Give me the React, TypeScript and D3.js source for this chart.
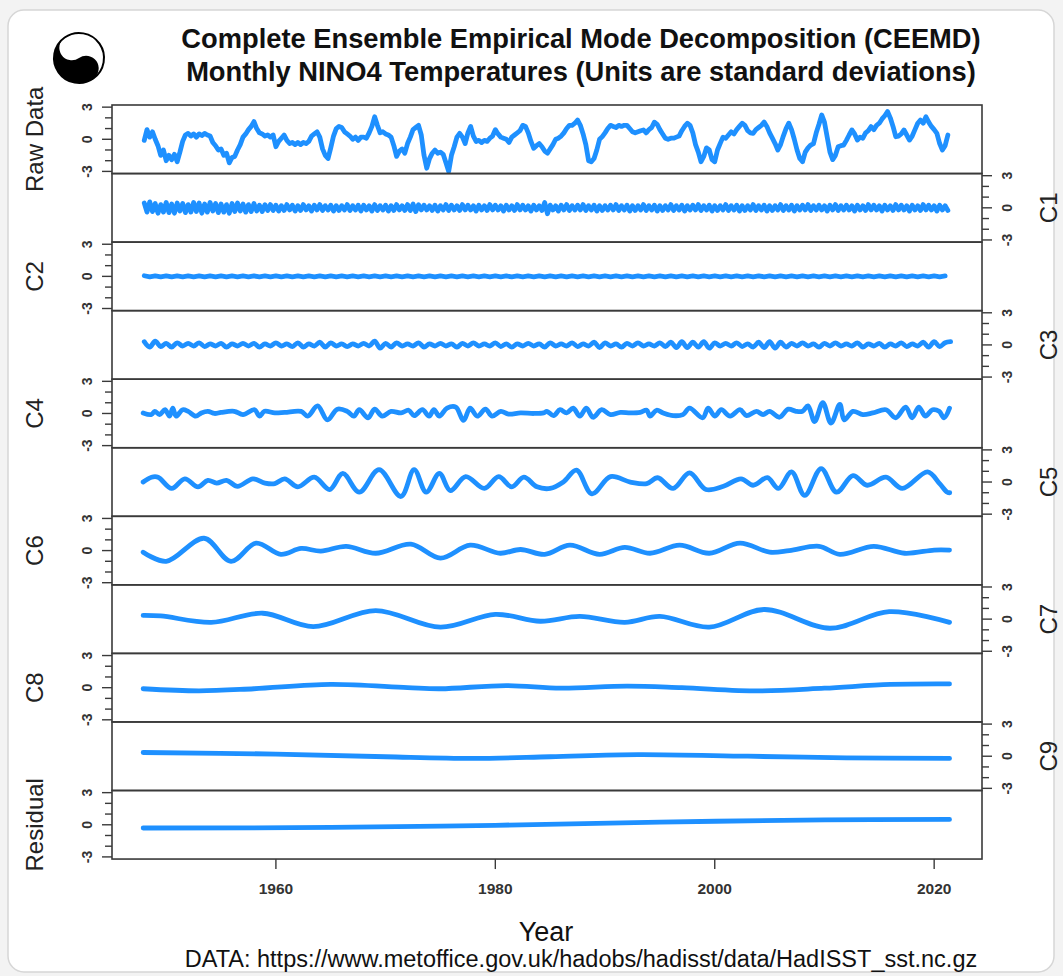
import React from 'react';
import * as d3 from 'd3';

const W = 1063, H = 976;
const LEFT = 112, RIGHT = 982, TOP = 105, PANEL_H = 68.55;
const START = 1948;
const X_DOMAIN: [number, number] = [1945.06, 2024.36];
const Y_DOMAIN: [number, number] = [-3.2, 3.2];
const Y_TICKS = [-3, -2, -1, 0, 1, 2, 3];
const Y_LABELS = [-3, 0, 3];
const X_TICKS = [1960, 1980, 2000, 2020];
const BLUE = '#1E90FF';

// Raw data, quarterly from 1948.0
const RAW = [
  -0.1, 0.9, 0.2, 0.7, 0.0, -0.6, -1.5, -1.0,
  -2.0, -1.5, -1.9, -1.4, -2.1, -1.2, -0.2, 0.4,
  0.55, 0.3, 0.5, 0.2, 0.5, 0.35, 0.55, 0.4,
  0.3, -0.3, -0.6, -1.0, -0.9, -1.5, -1.3, -2.2,
  -1.7, -1.6, -1.0, -0.5, 0.2, 0.5, 0.9, 1.2,
  1.65, 1.0, 0.6, 0.5, 0.3, 0.4, 0.2, 0.4,
  -0.7, -0.2, 0.1, 0.4, -0.1, -0.4, -0.3, -0.5,
  -0.3, -0.5, -0.3, -0.4, -0.2, 0.3, 0.5, 0.7,
  0.2, -0.9, -1.5, -1.8, -0.8, 0.3, 1.0, 1.2,
  1.1, 0.7, 0.5, 0.3, 0.0, 0.2, -0.1, 0.2,
  0.2, 0.1, 0.6, 1.2, 2.1, 1.3, 0.6, 0.7,
  0.5, 0.4, 0.2, -0.6, -1.6, -1.1, -0.9, -1.3,
  -0.4, 0.2, 0.9, 1.1, 1.3, 0.4, -1.5, -2.7,
  -1.8, -1.3, -1.0, -1.3, -1.2, -1.4, -2.2, -3.0,
  -1.5, -0.7, 0.2, 0.55, 0.2, -0.4, 0.6, 1.2,
  0.3, -0.2, -0.1, -0.3, -0.1, -0.2, 0.1, 0.3,
  0.9, 0.5, 0.2, 0.1, 0.0, -0.3, 0.2, 0.4,
  0.6, 0.8, 1.3, 1.2, 0.6, -0.2, -0.85, -0.6,
  -0.4, -0.7, -1.1, -1.3, -0.9, -0.5, 0.0, 0.1,
  0.3, 0.6, 1.0, 1.3, 1.3, 1.5, 1.8, 1.3,
  0.5, -0.5, -2.0, -2.1, -1.8, -1.0, 0.0, 0.25,
  0.6, 1.0, 1.3, 1.2, 1.1, 1.3, 1.2, 1.3,
  1.3, 1.0, 0.7, 0.6, 0.7, 0.8, 0.87, 0.6,
  0.9, 1.1, 1.6, 1.4, 0.9, 0.5, 0.1, 0.0,
  0.1, 0.1, 0.2, 0.3, 0.8, 1.2, 1.5, 1.3,
  0.6, -0.5, -1.2, -2.1, -1.6, -0.8, -1.0, -1.9,
  -2.1, -1.0, -0.38, 0.2, 0.1, 0.4, 0.7, 0.5,
  0.9, 1.2, 1.5, 1.3, 0.8, 0.6, 0.55, 0.9,
  1.1, 1.3, 1.6, 1.2, 0.6, 0.1, -0.4, -1.0,
  -0.5, 0.3, 1.0, 1.5, 0.9, 0.0, -1.0, -1.8,
  -2.1, -1.2, -0.8, -0.54, -0.4, 0.6, 1.4, 2.27,
  1.6, 0.2, -1.2, -1.9, -1.5, -0.7, -0.6, -0.54,
  -0.1, 0.4, 0.87, 0.5, -0.07, 0.2, 0.1, 0.6,
  0.8, 1.18, 0.9, 1.3, 1.5, 1.9, 2.2, 2.59,
  2.0, 1.2, 0.24, 0.3, 0.5, 0.87, 0.4, -0.07,
  0.3, 0.9, 1.5, 1.8, 1.5, 2.1, 1.6, 1.2,
  0.9, 0.55, -0.4, -1.0, -0.6, 0.4,
];

// C1, quarterly
const C1 = [
  0.45, -0.4, 0.55, -0.35, 0.4, -0.5, 0.3, -0.4,
  0.5, -0.45, 0.35, -0.5, 0.45, -0.3, 0.4, -0.45,
  0.3, -0.4, 0.5, -0.35, 0.45, -0.5, 0.35, -0.4,
  0.5, -0.3, 0.4, -0.45, 0.35, -0.4, 0.3, -0.5,
  0.4, -0.35, 0.45, -0.3, 0.35, -0.4, 0.3, -0.35,
  0.4, -0.3, 0.25, -0.35, 0.3, -0.25, 0.3, -0.25,
  0.25, -0.3, 0.2, -0.25, 0.3, -0.2, 0.25, -0.3,
  0.2, -0.25, 0.3, -0.2, 0.2, -0.3, 0.25, -0.2,
  0.3, -0.25, 0.2, -0.2, 0.25, -0.3, 0.2, -0.25,
  0.2, -0.2, 0.3, -0.25, 0.2, -0.2, 0.25, -0.3,
  0.25, -0.2, 0.2, -0.3, 0.3, -0.25, 0.2, -0.2,
  0.25, -0.3, 0.2, -0.25, 0.3, -0.2, 0.2, -0.25,
  0.3, -0.25, 0.35, -0.35, 0.3, -0.2, 0.25, -0.2,
  0.2, -0.25, 0.25, -0.3, 0.2, -0.2, 0.3, -0.25,
  0.25, -0.2, 0.2, -0.25, 0.3, -0.2, 0.25, -0.2,
  0.2, -0.3, 0.25, -0.2, 0.2, -0.25, 0.3, -0.2,
  0.25, -0.2, 0.2, -0.3, 0.25, -0.2, 0.2, -0.25,
  0.3, -0.2, 0.25, -0.2, 0.2, -0.3, 0.25, -0.2,
  0.2, -0.25, 0.5, -0.55, 0.25, -0.2, 0.2, -0.3,
  0.25, -0.2, 0.3, -0.25, 0.2, -0.2, 0.25, -0.2,
  0.3, -0.25, 0.2, -0.2, 0.25, -0.3, 0.2, -0.25,
  0.2, -0.2, 0.25, -0.2, 0.3, -0.25, 0.2, -0.2,
  0.25, -0.3, 0.2, -0.25, 0.2, -0.2, 0.3, -0.25,
  0.2, -0.2, 0.25, -0.3, 0.2, -0.25, 0.2, -0.2,
  0.3, -0.25, 0.2, -0.2, 0.25, -0.3, 0.2, -0.2,
  0.25, -0.2, 0.3, -0.25, 0.2, -0.2, 0.25, -0.3,
  0.2, -0.25, 0.2, -0.2, 0.3, -0.25, 0.2, -0.2,
  0.25, -0.3, 0.2, -0.25, 0.2, -0.2, 0.3, -0.25,
  0.2, -0.2, 0.25, -0.3, 0.2, -0.25, 0.2, -0.2,
  0.3, -0.25, 0.2, -0.2, 0.25, -0.3, 0.2, -0.2,
  0.25, -0.2, 0.3, -0.25, 0.2, -0.2, 0.25, -0.2,
  0.2, -0.3, 0.25, -0.2, 0.3, -0.25, 0.2, -0.2,
  0.25, -0.2, 0.2, -0.3, 0.25, -0.2, 0.2, -0.25,
  0.3, -0.2, 0.25, -0.2, 0.2, -0.3, 0.25, -0.2,
  0.2, -0.25, 0.3, -0.2, 0.25, -0.2, 0.2, -0.3,
  0.25, -0.2, 0.2, -0.25, 0.3, -0.2, 0.25, -0.2,
  0.2, -0.3, 0.25, -0.2, 0.2, -0.25,
];

// C2, half-yearly
const C2 = [
  0.06, -0.05, 0.05, -0.04, 0.05, -0.05, 0.04, -0.04, 0.05, -0.04, 0.04, -0.05,
  0.04, -0.04, 0.05, -0.04, 0.04, -0.04, 0.04, -0.05, 0.04, -0.04, 0.04, -0.04,
  0.05, -0.04, 0.04, -0.04, 0.04, -0.05, 0.04, -0.04, 0.04, -0.04, 0.05, -0.04,
  0.04, -0.04, 0.04, -0.04, 0.05, -0.04, 0.04, -0.05, 0.04, -0.04, 0.04, -0.04,
  0.05, -0.04, 0.04, -0.04, 0.04, -0.05, 0.04, -0.04, 0.04, -0.04, 0.05, -0.04,
  0.04, -0.04, 0.04, -0.04, 0.05, -0.04, 0.04, -0.05, 0.04, -0.04, 0.04, -0.04,
  0.05, -0.04, 0.04, -0.04, 0.04, -0.05, 0.04, -0.04, 0.04, -0.04, 0.05, -0.04,
  0.04, -0.04, 0.04, -0.04, 0.05, -0.04, 0.04, -0.05, 0.04, -0.04, 0.04, -0.04,
  0.05, -0.04, 0.04, -0.04, 0.04, -0.05, 0.04, -0.04, 0.04, -0.04, 0.05, -0.04,
  0.04, -0.04, 0.04, -0.04, 0.05, -0.04, 0.04, -0.05, 0.04, -0.04, 0.04, -0.04,
  0.05, -0.04, 0.04, -0.04, 0.04, -0.05, 0.04, -0.04, 0.04, -0.04, 0.05, -0.04,
  0.04, -0.04, 0.04, -0.04, 0.05, -0.04, 0.04, -0.05, 0.04, -0.04, 0.04, -0.04,
  0.05, -0.04, 0.04,
];

// C3, half-yearly
const C3 = [
  0.3, -0.2, 0.35, -0.15, 0.15, -0.2, 0.2, -0.1,
  0.15, -0.1, 0.2, -0.15, 0.1, -0.1, 0.15, -0.2,
  0.1, -0.1, 0.15, -0.1, 0.15, -0.2, 0.1, -0.1,
  0.2, -0.1, 0.1, -0.15, 0.2, -0.2, 0.1, -0.1,
  0.25, -0.2, 0.2, -0.1, 0.1, -0.15, 0.1, -0.1,
  0.15, -0.1, 0.35, -0.3, 0.15, -0.2, 0.2, -0.1,
  0.1, -0.1, 0.2, -0.2, 0.1, -0.1, 0.15, -0.1,
  0.1, -0.2, 0.15, -0.1, 0.2, -0.1, 0.1, -0.1,
  0.2, -0.15, 0.1, -0.2, 0.1, -0.1, 0.15, -0.1,
  0.1, -0.2, 0.2, -0.1, 0.1, -0.1, 0.2, -0.15,
  0.1, -0.1, 0.25, -0.25, 0.2, -0.1, 0.1, -0.2,
  0.15, -0.1, 0.2, -0.1, 0.1, -0.1, 0.2, -0.15,
  0.25, -0.25, 0.3, -0.25, 0.25, -0.2, 0.3, -0.3,
  0.2, -0.1, 0.15, -0.1, 0.2, -0.15, 0.1, -0.2,
  0.25, -0.25, 0.3, -0.3, 0.25, -0.2, 0.15, -0.1,
  0.2, -0.1, 0.1, -0.2, 0.15, -0.1, 0.2, -0.1,
  0.1, -0.1, 0.2, -0.2, 0.1, -0.1, 0.15, -0.2,
  0.1, -0.1, 0.2, -0.15, 0.1, -0.1, 0.25, -0.2,
  0.3, -0.15, 0.2, 0.3,
];

// C4 and slower components: [year, value] at the turning points
const C4: [number, number][] = [
  [1947.9, 0.05], [1948.66, -0.1], [1948.96, 0.2], [1949.4, -0.1], [1949.9, 0.35], [1950.3, -0.25],
  [1950.6, 0.5], [1950.9, -0.25], [1951.5, 0.35], [1952.0, 0.2], [1952.7, -0.25], [1953.2, 0.05],
  [1953.8, 0.2], [1954.4, 0], [1955.0, 0.1], [1956.2, 0.2], [1957.0, -0.1], [1958.05, 0.35],
  [1958.5, -0.25], [1958.96, 0.2], [1959.9, 0.05], [1960.8, 0.1], [1962.3, 0.2], [1962.9, -0.25],
  [1963.8, 0.7], [1964.7, -0.6], [1965.6, 0.4], [1966.5, 0.2], [1967.1, -0.25], [1967.6, 0.35],
  [1968.4, -0.4], [1969.0, 0.4], [1969.7, -0.25], [1970.5, 0.2], [1971.4, 0.05], [1972.1, 0.3],
  [1972.6, -0.2], [1973.35, 0.35], [1973.96, -0.25], [1974.4, 0.35], [1974.9, -0.25], [1975.6, 0.5],
  [1976.4, 0.6], [1977.1, -0.65], [1977.7, 0.5], [1978.35, -0.25], [1979.1, 0.4], [1979.7, -0.25],
  [1980.5, 0.2], [1981.2, -0.05], [1982.3, 0.05], [1983.5, 0], [1984.4, 0.05], [1984.7, 0.2],
  [1985.3, -0.2], [1985.9, 0.35], [1986.5, 0.05], [1987.1, 0.5], [1987.7, -0.25], [1988.3, 0.5],
  [1988.9, -0.35], [1989.7, 0.35], [1990.5, -0.1], [1991.4, 0.1], [1992.3, 0.05], [1993.2, 0.1],
  [1993.8, 0.3], [1994.1, -0.25], [1994.7, 0.3], [1995.3, 0.05], [1996.2, -0.2], [1997.1, -0.1],
  [1997.7, 0.5], [1998.9, -0.4], [1999.4, 0.5], [2000.0, -0.25], [2000.6, 0.35], [2001.4, -0.25],
  [2002.3, 0.35], [2002.9, -0.2], [2003.8, 0.2], [2004.4, -0.1], [2005.0, 0.2], [2005.9, -0.35],
  [2006.7, 0.4], [2007.4, 0.2], [2008.0, 0.2], [2008.5, 0.7], [2009.1, -0.75], [2009.85, 1.0],
  [2010.6, -0.9], [2011.4, 0.85], [2011.8, -0.6], [2012.6, 0.2], [2013.5, -0.1], [2014.4, 0.05],
  [2015.6, 0.35], [2016.5, -0.4], [2017.4, 0.6], [2018.0, -0.4], [2018.6, 0.6], [2019.2, -0.25],
  [2019.85, 0.35], [2020.45, 0.2], [2020.9, -0.4], [2021.4, 0.5],
];

const C5: [number, number][] = [
  [1947.9, 0], [1948.66, 0.45], [1949.26, 0.45], [1950.5, -0.6], [1951.7, 0.3], [1952.9, -0.45],
  [1953.8, 0.15], [1954.6, -0.1], [1955.5, 0.15], [1956.5, -0.4], [1957.9, 0.3], [1959.0, -0.1],
  [1959.9, -0.15], [1960.8, 0.3], [1962.0, -0.45], [1963.5, 0.45], [1964.9, -0.7], [1966.1, 0.8],
  [1967.6, -0.95], [1969.4, 1.15], [1971.4, -1.35], [1972.6, 1.15], [1973.7, -0.95], [1974.9, 0.8],
  [1975.9, -0.8], [1977.3, 0.5], [1979.0, -0.6], [1980.3, 0.5], [1981.5, -0.45], [1982.6, 0.45],
  [1983.8, -0.45], [1985.0, -0.6], [1986.2, 0.0], [1987.4, 1.1], [1988.8, -1.1], [1990.5, 0.5],
  [1992.3, 0.0], [1993.8, -0.15], [1994.8, 0.4], [1996.2, -0.6], [1997.7, 0.85], [1999.2, -0.7],
  [2000.8, -0.4], [2002.4, 0.3], [2003.5, -0.3], [2004.8, 0.4], [2005.8, -0.6], [2007.0, 0.95],
  [2008.2, -1.25], [2009.7, 1.25], [2011.1, -0.95], [2012.6, 0.6], [2013.9, -0.3], [2015.6, 0.45],
  [2017.1, -0.6], [2019.4, 0.95], [2020.5, -0.15], [2021.2, -0.95], [2021.42, -1.0],
];

const C6: [number, number][] = [
  [1947.9, -0.15], [1950.0, -1.0], [1953.45, 1.15], [1955.9, -1.0], [1958.2, 0.7], [1960.45, -0.35],
  [1962.3, 0.2], [1964.1, -0.05], [1966.4, 0.4], [1969.1, -0.25], [1972.3, 0.6], [1975.0, -0.7],
  [1977.7, 0.5], [1980.45, -0.25], [1982.3, 0.1], [1984.5, -0.35], [1986.8, 0.5], [1989.5, -0.35],
  [1991.8, 0.3], [1994.1, -0.25], [1996.8, 0.5], [1999.5, -0.25], [2002.3, 0.7], [2005.0, -0.15],
  [2006.8, 0], [2009.5, 0.4], [2011.4, -0.35], [2014.5, 0.4], [2017.3, -0.25], [2020.0, 0.05],
  [2021.4, 0.05],
];

const C7: [number, number][] = [
  [1947.9, 0.35], [1949.5, 0.3], [1954.1, -0.3], [1958.8, 0.55], [1963.4, -0.7], [1969.1, 0.8],
  [1975.0, -0.75], [1980.0, 0.45], [1984.1, -0.2], [1987.7, 0.25], [1991.8, -0.3], [1995.0, 0.25],
  [1999.5, -0.75], [2004.5, 0.9], [2010.5, -0.85], [2015.9, 0.7], [2021.4, -0.3],
];

const C8: [number, number][] = [
  [1947.9, -0.1], [1953, -0.3], [1958, -0.1], [1965, 0.3], [1972, 0.0], [1975, -0.1],
  [1981, 0.2], [1986, -0.05], [1992, 0.15], [1997, 0.0], [2004, -0.3], [2010, -0.05],
  [2016, 0.3], [2021.4, 0.35],
];

const C9: [number, number][] = [
  [1947.9, 0.35], [1960, 0.2], [1970, -0.05], [1978, -0.2], [1985, -0.05], [1993, 0.15],
  [2003, 0.0], [2012, -0.15], [2021.4, -0.2],
];

const RESIDUAL: [number, number][] = [
  [1947.9, -0.3], [1965, -0.25], [1980, -0.05], [1995, 0.25], [2010, 0.45], [2021.4, 0.5],
];

const PANEL_NAMES = ['Raw Data', 'C1', 'C2', 'C3', 'C4', 'C5', 'C6', 'C7', 'C8', 'C9', 'Residual'];

function uniform(values: number[], step: number): [number, number][] {
  return values.map((v, i) => [START + i * step, v] as [number, number]);
}

const SERIES: { pts: [number, number][]; curve: d3.CurveFactory }[] = [
  { pts: uniform(RAW, 0.25), curve: d3.curveLinear },
  { pts: uniform(C1, 0.25), curve: d3.curveLinear },
  { pts: uniform(C2, 0.5), curve: d3.curveLinear },
  { pts: uniform(C3, 0.5), curve: d3.curveCatmullRom },
  { pts: C4, curve: d3.curveCatmullRom },
  { pts: C5, curve: d3.curveCatmullRom },
  { pts: C6, curve: d3.curveCatmullRom },
  { pts: C7, curve: d3.curveCatmullRom },
  { pts: C8, curve: d3.curveCatmullRom },
  { pts: C9, curve: d3.curveCatmullRom },
  { pts: RESIDUAL, curve: d3.curveCatmullRom },
];

const FONT = '"Liberation Sans", Arial, Helvetica, sans-serif';

export default function App() {
  const x = d3.scaleLinear().domain(X_DOMAIN).range([LEFT, RIGHT]);
  const bottom = TOP + PANEL_H * PANEL_NAMES.length;

  const cx = 79, cy = 58, r = 25;
  const yinPath = `M ${cx} ${cy - r} A ${r} ${r} 0 0 0 ${cx} ${cy + r} A ${r / 2} ${r / 2} 0 0 0 ${cx} ${cy} A ${r / 2} ${r / 2} 0 0 1 ${cx} ${cy - r} Z`;

  return (
    <svg width={W} height={H} style={{ position: 'absolute', left: 0, top: 0, display: 'block' }} fontFamily={FONT}>
      <rect x={0} y={0} width={W} height={H} fill="#f3f3f3" />
      <rect x={8} y={10} width={1046} height={962} rx={16} fill="#ffffff" stroke="#d6d6d6" strokeWidth={1.5} />

      {/* logo */}
      <g>
        <g transform={`rotate(-35 ${cx} ${cy})`}>
          <circle cx={cx} cy={cy} r={r} fill="#fff" stroke="#000" strokeWidth={2} />
          <path d={yinPath} fill="#000" />
          <circle cx={cx} cy={cy - r / 2} r={3.5} fill="#fff" />
          <circle cx={cx} cy={cy + r / 2} r={3.5} fill="#000" />
        </g>
      </g>

      <text x={581} y={48} textAnchor="middle" fontSize={27.3} fontWeight="bold" fill="#111">
        Complete Ensemble Empirical Mode Decomposition (CEEMD)
      </text>
      <text x={581} y={81} textAnchor="middle" fontSize={27.3} fontWeight="bold" fill="#111">
        Monthly NINO4 Temperatures (Units are standard deviations)
      </text>

      {PANEL_NAMES.map((name, i) => {
        const y0 = TOP + i * PANEL_H;
        const y1 = y0 + PANEL_H;
        const y = d3.scaleLinear().domain(Y_DOMAIN).range([y1, y0]);
        const s = SERIES[i];
        const line = d3.line<[number, number]>().x(d => x(d[0])).y(d => y(d[1])).curve(s.curve);
        const left = i % 2 === 0;
        const axisX = left ? LEFT : RIGHT;
        const dir = left ? -1 : 1;
        const midY = (y0 + y1) / 2;
        return (
          <g key={name}>
            <path d={line(s.pts) || ''} fill="none" stroke={BLUE} strokeWidth={4.8} strokeLinejoin="round" strokeLinecap="round" />
            <rect x={LEFT} y={y0} width={RIGHT - LEFT} height={PANEL_H} fill="none" stroke="#3a3a3a" strokeWidth={1.6} />
            {Y_TICKS.map(t => (
              <line key={t} x1={axisX} x2={axisX + dir * (Y_LABELS.includes(t) ? 10 : 7)} y1={y(t)} y2={y(t)} stroke="#3a3a3a" strokeWidth={1.4} />
            ))}
            {Y_LABELS.map(t => (
              <text key={t} transform={`translate(${axisX + dir * 25},${y(t)}) rotate(-90)`} textAnchor="middle" dy="0.35em" fontSize={14} fontWeight="bold" fill="#333">
                {t}
              </text>
            ))}
            <text transform={`translate(${left ? 35 : 1049},${midY}) rotate(-90)`} textAnchor="middle" dy="0.35em" fontSize={24} fill="#222">
              {name}
            </text>
          </g>
        );
      })}

      {X_TICKS.map(t => (
        <g key={t}>
          <line x1={x(t)} x2={x(t)} y1={bottom} y2={bottom + 10} stroke="#3a3a3a" strokeWidth={1.4} />
          <text x={x(t)} y={bottom + 35} textAnchor="middle" fontSize={15.5} fontWeight="bold" fill="#333">{t}</text>
        </g>
      ))}

      <text x={546} y={941} textAnchor="middle" fontSize={27} fill="#111">Year</text>
      <text x={581} y={967} textAnchor="middle" fontSize={23.5} fill="#111">
        DATA: https://www.metoffice.gov.uk/hadobs/hadisst/data/HadISST_sst.nc.gz
      </text>
    </svg>
  );
}
